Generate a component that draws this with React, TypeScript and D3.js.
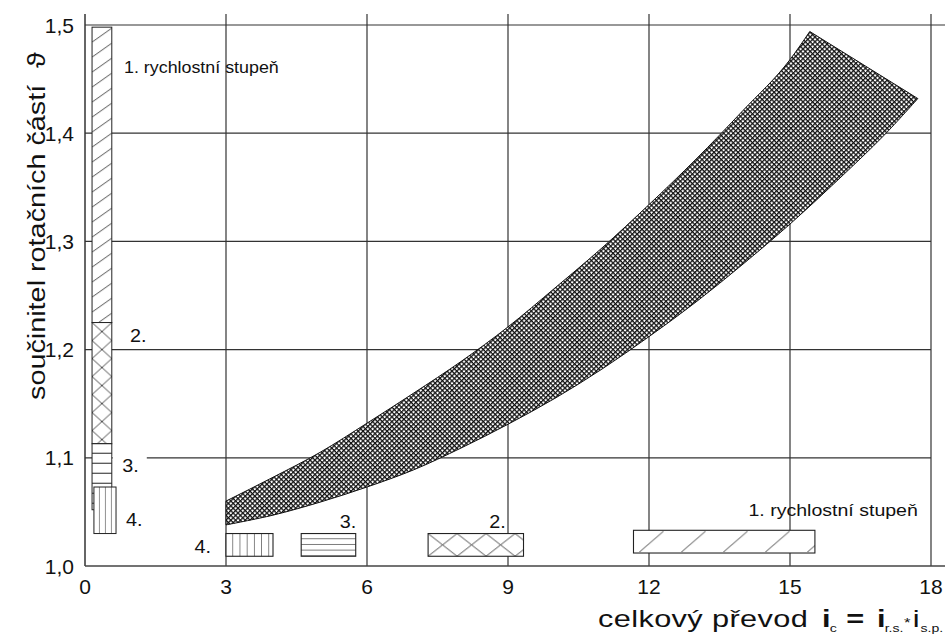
import React from 'react';
import * as d3 from 'd3';

// ---- data ----
const xTickValues = [0, 3, 6, 9, 12, 15, 18];
const yTickValues = [1.0, 1.1, 1.2, 1.3, 1.4, 1.5];
const yTickLabels = ['1,0', '1,1', '1,2', '1,3', '1,4', '1,5'];

// band: upper boundary ascending (ends at the tip), lower boundary descending (starts at right corner)
const bandUpper: [number, number][] = [
  [3, 1.06], [4, 1.082], [5, 1.105], [6, 1.132], [7, 1.16], [8, 1.189], [9, 1.221],
  [10, 1.257], [11, 1.294], [12, 1.334], [13, 1.376], [14, 1.421], [15, 1.468], [15.42, 1.494],
];
const bandLower: [number, number][] = [
  [17.72, 1.432], [17, 1.398], [16, 1.356], [15, 1.316], [14, 1.279], [13, 1.244], [12, 1.212],
  [11, 1.182], [10, 1.155], [9, 1.131], [8, 1.109], [7, 1.089], [6, 1.073], [5, 1.059], [4, 1.047], [3, 1.038],
];

// vertical (left) bar segments
const barGears = ['1', '2', '3'];
const barYFrom = [1.225, 1.113, 1.052];
const barYTo = [1.498, 1.225, 1.113];
const barX = [0.15, 0.57];
const bar4X = [0.19, 0.66];
const bar4Y = [1.03, 1.073];

// horizontal (bottom) ranges of total ratio
const gearNames = ['1', '2', '3', '4'];
const gearXFrom = [11.67, 7.3, 4.6, 3.0];
const gearXTo = [15.53, 9.33, 5.76, 4.0];
const gearYFrom = [1.012, 1.009, 1.009, 1.009];
const gearYTo = [1.033, 1.03, 1.03, 1.03];

const FONT = '"Liberation Sans", Arial, Helvetica, sans-serif';

function SText({ x, y, sx = 1, anchor = 'start', size, children }:
  { x: number; y: number; sx?: number; anchor?: string; size: number; children: React.ReactNode }) {
  return (
    <g transform={`translate(${x},${y}) scale(${sx},1)`}>
      <text x={0} y={0} fontSize={size} textAnchor={anchor} fill="#111">{children}</text>
    </g>
  );
}

export default function App() {
  const x = d3.scaleLinear().domain([0, 18]).range([85, 931]);
  const y = d3.scaleLinear().domain([1.0, 1.5]).range([566, 25]);

  const upperPath = d3.line<[number, number]>().x(d => x(d[0])).y(d => y(d[1])).curve(d3.curveMonotoneX)(bandUpper) as string;
  const lowerPath = d3.line<[number, number]>().x(d => x(d[0])).y(d => y(d[1])).curve(d3.curveCatmullRom)(bandLower) as string;
  const bandPath = upperPath + 'L' + lowerPath.slice(1) + 'Z';

  const stroke = '#222';
  const bx0 = x(barX[0]), bx1 = x(barX[1]);
  const bw = bx1 - bx0;

  const barPatternIds = ['pDiagBar', 'pCrossBar', 'pHorizBar'];
  const gearPatternIds = ['pDiagR', 'pCrossR', 'pHorizR', 'pVertR'];
  const rh = (i: number) => y(gearYFrom[i]) - y(gearYTo[i]);

  return (
    <svg width={948} height={640} style={{ position: 'absolute', left: 0, top: 0, background: '#fff' }}
      fontFamily={FONT}>
      <defs>
        <pattern id="mesh" patternUnits="userSpaceOnUse" width={3.4} height={3.4} patternTransform="rotate(45)">
          <rect width={3.4} height={3.4} fill="#fff" />
          <path d="M0,0.6H3.4M0.6,0V3.4" stroke="#111" strokeWidth={1.35} />
        </pattern>
        <pattern id="pDiagBar" patternUnits="userSpaceOnUse" x={bx0} y={y(barYTo[0])} width={bw} height={15}>
          <rect width={bw} height={15} fill="#fff" />
          <path d={`M0,15L${bw},1`} stroke={stroke} strokeWidth={0.8} fill="none" />
        </pattern>
        <pattern id="pCrossBar" patternUnits="userSpaceOnUse" x={bx0} y={y(barYTo[1])} width={bw} height={18}>
          <rect width={bw} height={18} fill="#fff" />
          <path d={`M0,0L${bw},18M0,18L${bw},0`} stroke={stroke} strokeWidth={0.8} fill="none" />
        </pattern>
        <pattern id="pHorizBar" patternUnits="userSpaceOnUse" x={bx0} y={y(barYTo[2])} width={bw} height={10}>
          <rect width={bw} height={10} fill="#fff" />
          <path d={`M0,9.5H${bw}`} stroke={stroke} strokeWidth={1} fill="none" />
        </pattern>
        <pattern id="pVertBar" patternUnits="userSpaceOnUse" x={x(bar4X[0])} y={0} width={6} height={640}>
          <rect width={6} height={640} fill="#fff" />
          <path d="M6,0V640" stroke={stroke} strokeWidth={1} fill="none" />
        </pattern>
        <pattern id="pDiagR" patternUnits="userSpaceOnUse" x={x(gearXFrom[0])} y={y(gearYTo[0])} width={42} height={rh(0)}>
          <rect width={42} height={40} fill="#fff" />
          <path d={`M6,${rh(0) - 1}L30,1`} stroke={stroke} strokeWidth={0.8} fill="none" />
        </pattern>
        <pattern id="pCrossR" patternUnits="userSpaceOnUse" x={x(gearXFrom[1])} y={y(gearYTo[1])} width={29} height={rh(1)}>
          <rect width={29} height={40} fill="#fff" />
          <path d={`M0,0L29,${rh(1)}M0,${rh(1)}L29,0`} stroke={stroke} strokeWidth={0.8} fill="none" />
        </pattern>
        <pattern id="pHorizR" patternUnits="userSpaceOnUse" x={0} y={y(gearYTo[2])} width={20} height={rh(2) / 4}>
          <rect width={20} height={10} fill="#fff" />
          <path d={`M0,${rh(2) / 4}H20`} stroke={stroke} strokeWidth={1.2} fill="none" />
        </pattern>
        <pattern id="pVertR" patternUnits="userSpaceOnUse" x={x(gearXFrom[3])} y={0} width={7.2} height={640}>
          <rect width={7.2} height={640} fill="#fff" />
          <path d="M7.2,0V640" stroke={stroke} strokeWidth={1.1} fill="none" />
        </pattern>
      </defs>

      {/* grid */}
      <g stroke="#333" strokeWidth={1.2}>
        {yTickValues.filter(v => v > 1.0 && v < 1.5).map(v => (
          <line key={v} x1={x(0)} x2={x(18)} y1={y(v)} y2={y(v)} />
        ))}
        <line x1={x(0)} x2={945} y1={y(1.5)} y2={y(1.5)} />
        {xTickValues.filter(v => v > 0).map(v => (
          <line key={v} x1={x(v)} x2={x(v)} y1={14} y2={y(1.0)} />
        ))}
        <line x1={x(0)} x2={x(0)} y1={14} y2={y(1.0)} strokeWidth={1.5} />
        <line x1={x(0)} x2={945} y1={y(1.0)} y2={y(1.0)} strokeWidth={1.6} stroke="#444" />
      </g>

      {/* band */}
      <path d={bandPath} fill="url(#mesh)" stroke="#111" strokeWidth={1} />

      {/* left vertical bar */}
      {barGears.map((g, i) => (
        <rect key={g} x={bx0} width={bw} y={y(barYTo[i])} height={y(barYFrom[i]) - y(barYTo[i])}
          fill={`url(#${barPatternIds[i]})`} stroke={stroke} strokeWidth={1} />
      ))}
      <rect x={x(bar4X[0])} width={x(bar4X[1]) - x(bar4X[0])} y={y(bar4Y[1])} height={y(bar4Y[0]) - y(bar4Y[1])}
        fill="url(#pVertBar)" stroke={stroke} strokeWidth={1} />

      {/* bottom ranges */}
      {gearNames.map((g, i) => (
        <rect key={g} x={x(gearXFrom[i])} width={x(gearXTo[i]) - x(gearXFrom[i])} y={y(gearYTo[i])}
          height={rh(i)} fill={`url(#${gearPatternIds[i]})`} stroke={stroke} strokeWidth={1.1} />
      ))}

      {/* annotations */}
      <rect x={bx1 + 1} y={y(1.1) - 2} width={34} height={4} fill="#fff" />
      <SText x={x(0.83)} y={y(1.456)} sx={1.05} size={17}>1. rychlostní stupeň</SText>
      <SText x={x(0.96)} y={y(1.207)} sx={1.1} size={18}>2.</SText>
      <SText x={x(0.79)} y={y(1.087)} sx={1.1} size={18}>3.</SText>
      <SText x={x(0.87)} y={y(1.037)} sx={1.1} size={18}>4.</SText>
      <SText x={x(2.68)} y={y(1.012)} sx={1.1} size={18} anchor="end">4.</SText>
      <SText x={x(5.77)} y={y(1.035)} sx={1.1} size={18} anchor="end">3.</SText>
      <SText x={x(8.95)} y={y(1.035)} sx={1.1} size={18} anchor="end">2.</SText>
      <SText x={x(17.72)} y={y(1.046)} sx={1.15} size={17} anchor="end">1. rychlostní stupeň</SText>

      {/* tick labels */}
      <g fontSize={21} fill="#111">
        {yTickValues.map((v, i) => (
          <text key={v} x={74} y={y(v)} dy="0.36em" textAnchor="end">{yTickLabels[i]}</text>
        ))}
        {xTickValues.map(v => (
          <text key={v} x={x(v)} y={y(1.0) + 28} textAnchor="middle">{v}</text>
        ))}
      </g>

      {/* axis titles */}
      <g transform="translate(45,400) rotate(-90) scale(1.2,1)">
        <text x={0} y={0} fontSize={24} fill="#111">
          součinitel rotačních částí<tspan dx={14}>ϑ</tspan>
        </text>
      </g>
      <g transform="translate(598,627) scale(1.28,1)">
        <text x={0} y={0} fontSize={24} fill="#111">
          <tspan x={0} letterSpacing={0.3}>celkový převod</tspan>
          <tspan x={175} fontWeight="bold">i</tspan>
          <tspan x={181} dy={5} fontSize={11}>c</tspan>
          <tspan x={194} dy={-5} fontWeight="bold">=</tspan>
          <tspan x={218} fontWeight="bold">i</tspan>
          <tspan x={224} dy={5} fontSize={11}>r.s.</tspan>
          <tspan x={239} dy={-5} fontSize={13}>*</tspan>
          <tspan x={246}>i</tspan>
          <tspan x={252} dy={5} fontSize={11}>s.p.</tspan>
        </text>
      </g>
    </svg>
  );
}
